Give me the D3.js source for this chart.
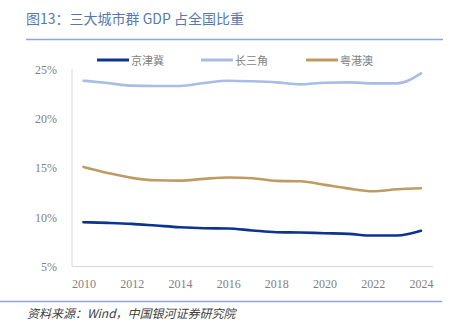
<!DOCTYPE html>
<html>
<head>
<meta charset="utf-8">
<script src="https://cdn.jsdelivr.net/npm/d3@7"></script>
<style>
  body { margin: 0; background: #fff; }
  svg { display: block; }
</style>
</head>
<body>
<div id="chart"></div>
<script>
// data (share of national GDP, %)
var years = [2010, 2011, 2012, 2013, 2014, 2015, 2016, 2017, 2018, 2019, 2020, 2021, 2022, 2023, 2024]
var jingJinJi = [9.5, 9.43, 9.33, 9.16, 8.99, 8.89, 8.86, 8.66, 8.48, 8.45, 8.38, 8.31, 8.14, 8.14, 8.62]
var changSanJiao = [23.86, 23.63, 23.36, 23.33, 23.33, 23.63, 23.86, 23.8, 23.69, 23.49, 23.66, 23.69, 23.59, 23.59, 24.6]
var yueGangAo = [15.11, 14.5, 14.0, 13.75, 13.72, 13.9, 14.03, 13.96, 13.69, 13.65, 13.29, 12.91, 12.64, 12.84, 12.94]
var seriesNames = ["京津冀", "长三角", "粤港澳"]
var xTicks = [2010, 2012, 2014, 2016, 2018, 2020, 2022, 2024]
var yTicks = [5, 10, 15, 20, 25]

var width = 457
var height = 327
var colors = ["#0b3391", "#a7bce6", "#c09a63"]
var seriesValues = [jingJinJi, changSanJiao, yueGangAo]

var svg = d3.select("#chart").append("svg")
    .attr("width", width)
    .attr("height", height)

// title
svg.append("text")
    .attr("x", 26).attr("y", 24)
    .attr("font-family", "'Noto Sans CJK SC', sans-serif")
    .attr("font-size", 14)
    .attr("fill", "#5878b0")
    .text("图13：三大城市群 GDP 占全国比重")

svg.append("line")
    .attr("x1", 26).attr("x2", 443)
    .attr("y1", 39.5).attr("y2", 39.5)
    .attr("stroke", "#8fa8d3").attr("stroke-width", 1.5)

var x = d3.scaleLinear().domain([2010, 2024]).range([83.5, 421])
var y = d3.scaleLinear().domain([5, 25]).range([266.5, 69.5])

// axes (light grey frame lines)
svg.append("line")
    .attr("x1", 72).attr("x2", 72)
    .attr("y1", 69).attr("y2", 266.5)
    .attr("stroke", "#d9d9d9")
svg.append("line")
    .attr("x1", 72).attr("x2", 433)
    .attr("y1", 266.5).attr("y2", 266.5)
    .attr("stroke", "#d9d9d9")

var yAxis = svg.append("g")
    .attr("transform", "translate(60,0)")
    .call(d3.axisLeft(y).tickValues(yTicks).tickSize(0).tickFormat(d => d + "%"))
yAxis.select(".domain").remove()

var xAxis = svg.append("g")
    .attr("transform", "translate(0,276)")
    .call(d3.axisBottom(x).tickValues(xTicks).tickSize(0).tickFormat(d3.format("d")))
xAxis.select(".domain").remove()

svg.selectAll(".tick text")
    .attr("font-family", "'Liberation Serif', 'DejaVu Serif', serif")
    .attr("font-size", 12)
    .attr("fill", "#7f7f7f")

// series lines
var line = d3.line()
    .x((d, i) => x(years[i]))
    .y(d => y(d))
    .curve(d3.curveMonotoneX)

svg.append("g")
    .selectAll("path")
    .data(seriesValues)
    .join("path")
    .attr("d", d => line(d))
    .attr("fill", "none")
    .attr("stroke", (d, i) => colors[i])
    .attr("stroke-width", 2.6)
    .attr("stroke-linejoin", "round")
    .attr("stroke-linecap", "round")

// legend
var legendX = [97, 201, 306]
var legend = svg.append("g")
    .selectAll("g")
    .data(seriesNames)
    .join("g")
    .attr("transform", (d, i) => "translate(" + legendX[i] + ",60)")
legend.append("line")
    .attr("x1", 0).attr("x2", 32)
    .attr("stroke", (d, i) => colors[i])
    .attr("stroke-width", 3)
legend.append("text")
    .attr("x", 34).attr("y", 4.5)
    .attr("font-family", "'Noto Sans CJK SC', sans-serif")
    .attr("font-size", 11)
    .attr("fill", "#7f7f7f")
    .text(d => d)

// footer
svg.append("line")
    .attr("x1", 0).attr("x2", 442)
    .attr("y1", 301.5).attr("y2", 301.5)
    .attr("stroke", "#8fa8d3").attr("stroke-width", 1.5)

svg.append("text")
    .attr("x", 27).attr("y", 318)
    .attr("font-family", "'Noto Sans CJK SC', sans-serif")
    .attr("font-size", 12)
    .attr("font-style", "italic")
    .attr("fill", "#404040")
    .text("资料来源：Wind，中国银河证券研究院")
</script>
</body>
</html>
